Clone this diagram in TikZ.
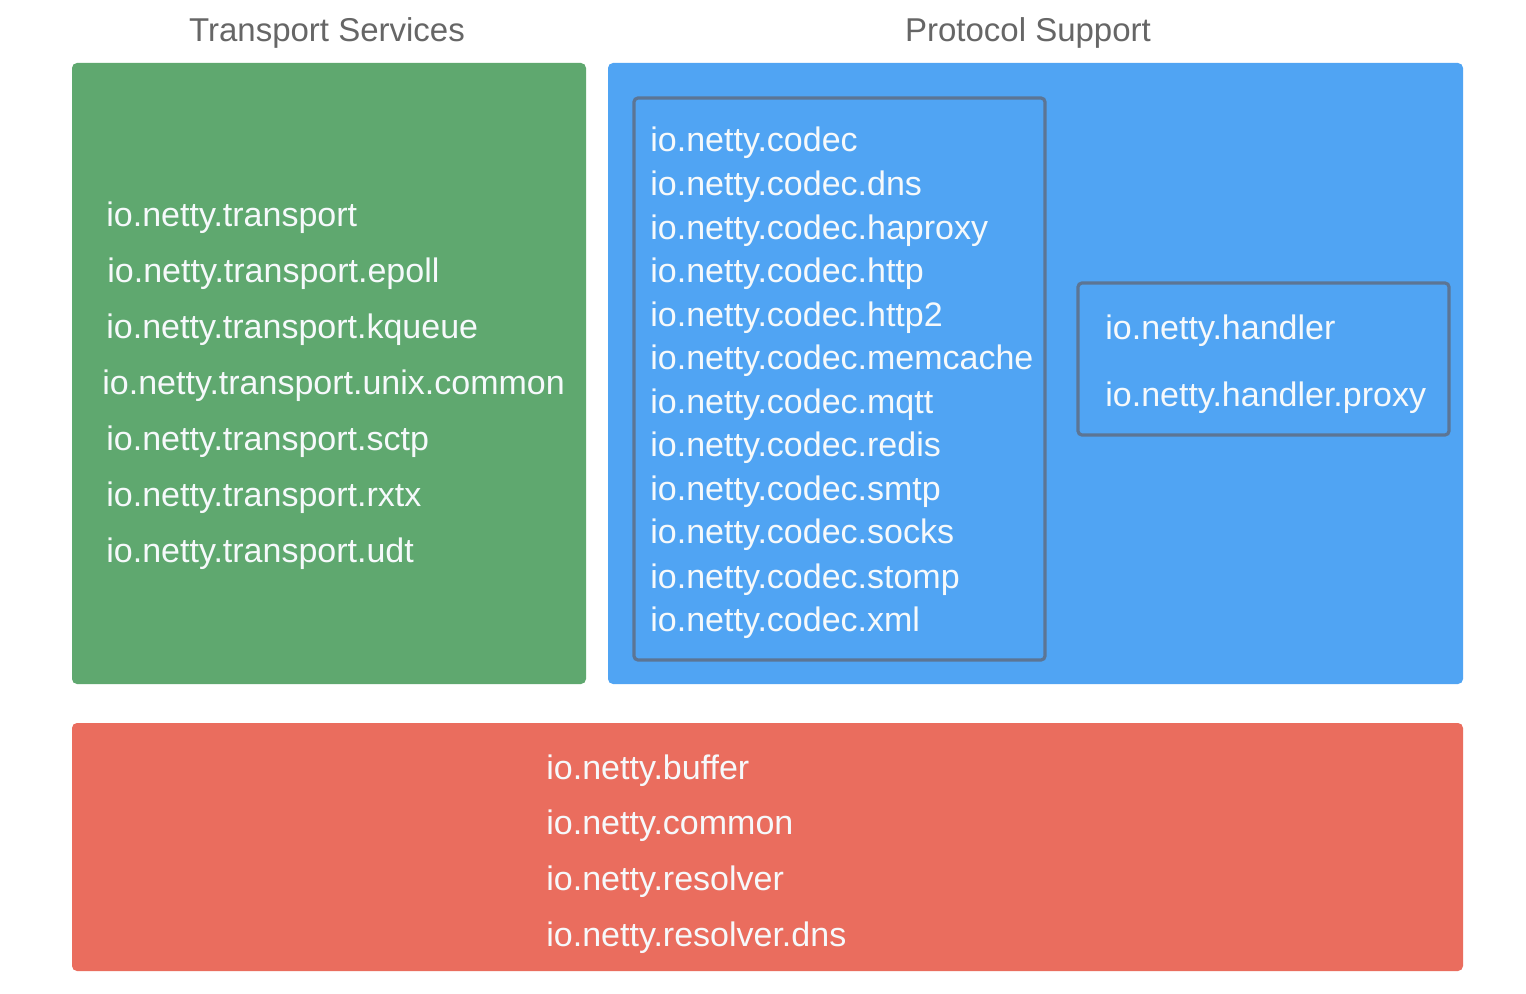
\documentclass[tikz,border=0pt]{standalone}
\usepackage{fontspec}
\setmainfont{Liberation Sans}
\definecolor{tgreen}{HTML}{5FA86F}
\definecolor{tblue}{HTML}{50A4F3}
\definecolor{tred}{HTML}{EA6D5E}
\definecolor{tframe}{HTML}{5C7594}
\definecolor{ttitle}{HTML}{666666}
\definecolor{ttext}{HTML}{F6F9FB}
\tikzset{
  panel/.style={rectangle, rounded corners=2.5pt, inner sep=0pt, draw=none},
  frame/.style={rectangle, rounded corners=2pt, inner sep=0pt, draw=tframe, line width=1.6pt},
  item/.style={anchor=base west, inner sep=0pt, text=ttext, font=\fontsize{17pt}{20pt}\selectfont},
  title/.style={anchor=base, inner sep=0pt, text=ttitle, font=\fontsize{16.5pt}{20pt}\selectfont},
}
\begin{document}
\begin{tikzpicture}[x=0.5pt,y=-0.5pt]
\useasboundingbox[fill=white] (0,0) rectangle (1526,994);
% panels
\node[panel, fill=tgreen, minimum width=257pt, minimum height=310.5pt] (green) at (329,373.5) {};
\node[panel, fill=tblue, minimum width=427.5pt, minimum height=310.5pt] (blue) at (1035.5,373.5) {};
\node[panel, fill=tred, minimum width=695.5pt, minimum height=124pt] (red) at (767.5,847) {};
\node[frame, minimum width=205.5pt, minimum height=281pt] (codec) at (839.5,379) {};
\node[frame, minimum width=185.5pt, minimum height=76pt] (handler) at (1263.5,359) {};
% titles
\node[title] (t1) at (327,42) {Transport Services};
\node[title] (t2) at (1028,42) {Protocol Support};
% transport
\node[item] (tr1) at (106,227) {io.netty.transport};
\node[item] (tr2) at (107,283) {io.netty.transport.epoll};
\node[item] (tr3) at (106,339) {io.netty.transport.kqueue};
\node[item] (tr4) at (102,395) {io.netty.transport.unix.common};
\node[item] (tr5) at (106,451) {io.netty.transport.sctp};
\node[item] (tr6) at (106,506) {io.netty.transport.rxtx};
\node[item] (tr7) at (106,562) {io.netty.transport.udt};
% codec
\node[item] (c1) at (650,152) {io.netty.codec};
\node[item] (c2) at (650,196) {io.netty.codec.dns};
\node[item] (c3) at (650,240) {io.netty.codec.haproxy};
\node[item] (c4) at (650,283) {io.netty.codec.http};
\node[item] (c5) at (650,327) {io.netty.codec.http2};
\node[item] (c6) at (650,370) {io.netty.codec.memcache};
\node[item] (c7) at (650,414) {io.netty.codec.mqtt};
\node[item] (c8) at (650,457) {io.netty.codec.redis};
\node[item] (c9) at (650,501) {io.netty.codec.smtp};
\node[item] (c10) at (650,544) {io.netty.codec.socks};
\node[item] (c11) at (650,588) {io.netty.codec.stomp};
\node[item] (c12) at (650,631) {io.netty.codec.xml};
% handler
\node[item] (h1) at (1105,340) {io.netty.handler};
\node[item] (h2) at (1105,407) {io.netty.handler.proxy};
% common
\node[item] (r1) at (546,779) {io.netty.buffer};
\node[item] (r2) at (546,834) {io.netty.common};
\node[item] (r3) at (546,890) {io.netty.resolver};
\node[item] (r4) at (546,946) {io.netty.resolver.dns};
\end{tikzpicture}
\end{document}
